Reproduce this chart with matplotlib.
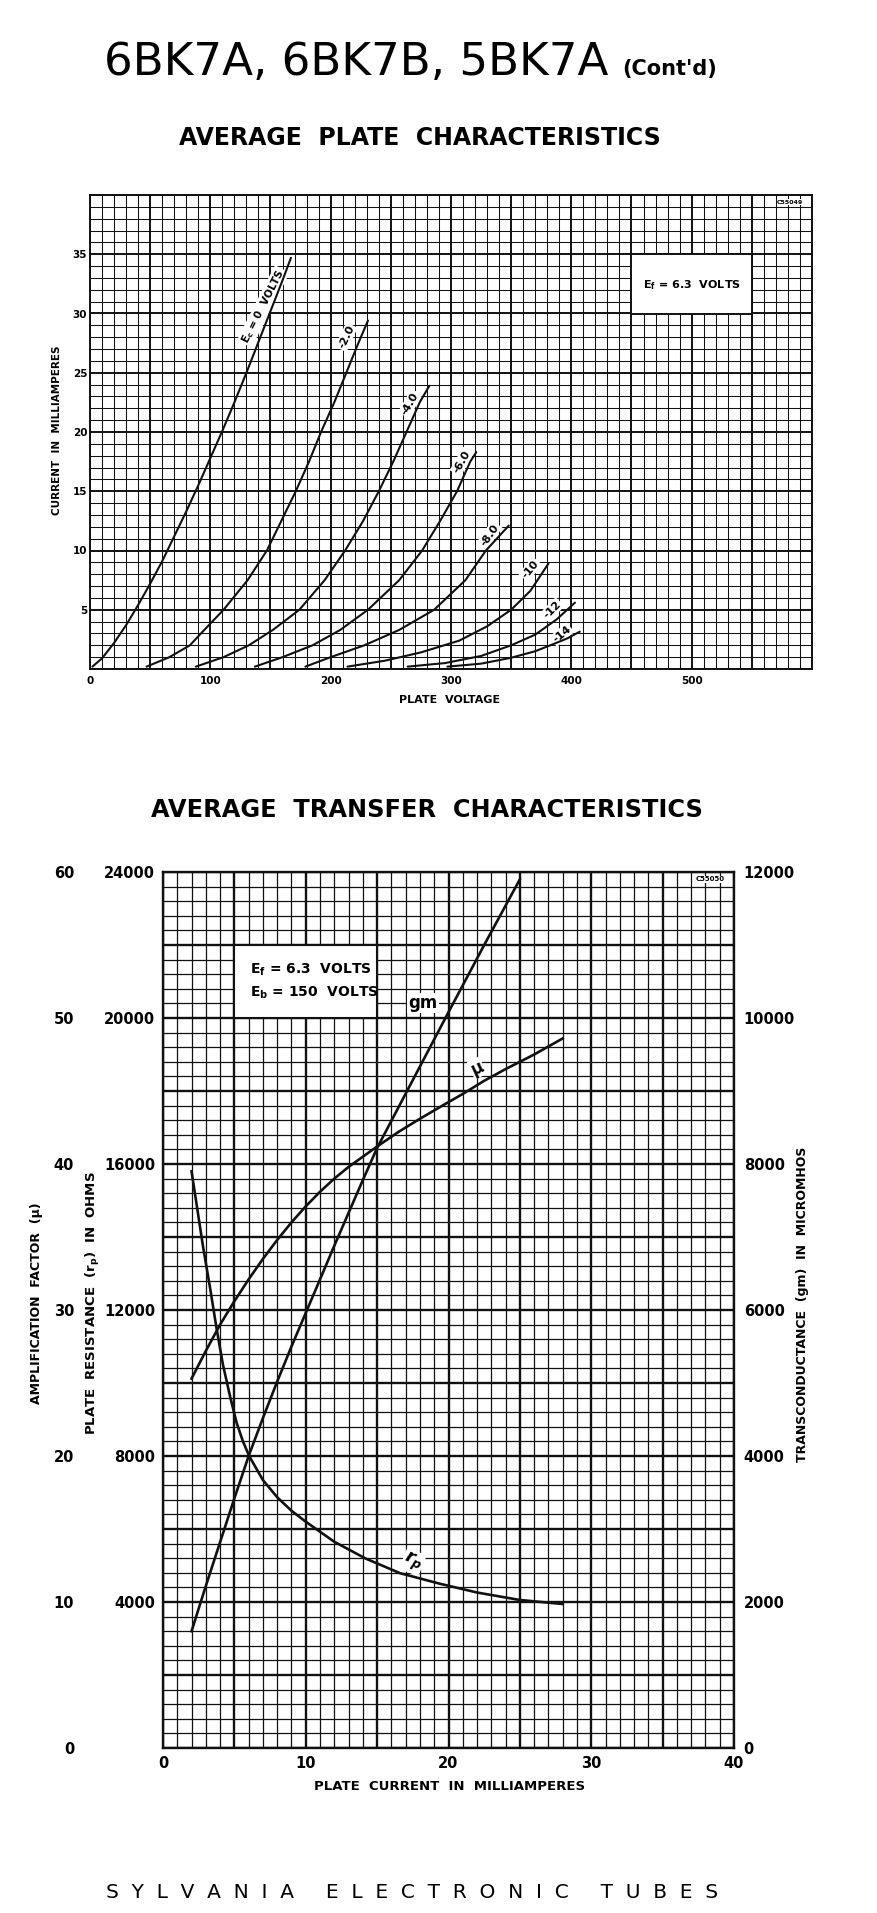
import matplotlib
matplotlib.use('Agg')
import matplotlib.pyplot as plt
from matplotlib.ticker import MultipleLocator, FuncFormatter
from matplotlib.patches import Rectangle

W, H = 878, 1913

# --- average plate characteristics (plate volts, plate mA) ---
ec_labels = ['-2.0', '-4.0', '-6.0', '-8.0', '-10', '-12', '-14']
v_ec0 = [2, 10, 20, 30, 40, 50, 60, 70, 80, 90, 100, 110, 120, 130, 140, 150, 160, 167]
i_ec0 = [0.2, 0.9, 2.2, 3.7, 5.4, 7.2, 9.1, 11.2, 13.3, 15.5, 17.8, 20.1, 22.5, 25.0,
         27.6, 30.2, 32.8, 34.7]
v_ec2 = [47, 66, 83, 95, 111, 131, 147, 159, 171, 182, 192, 203, 213, 223, 231]
i_ec2 = [0.2, 1.0, 2.0, 3.3, 5.0, 7.5, 10.0, 12.5, 15.0, 17.5, 20.0, 22.5, 25.0, 27.5, 29.4]
v_ec4 = [88, 111, 132, 152, 174, 195, 212, 227, 240, 252, 263, 274, 282]
i_ec4 = [0.2, 1.0, 2.0, 3.3, 5.0, 7.5, 10.0, 12.5, 15.0, 17.5, 20.0, 22.5, 23.9]
v_ec6 = [137, 160, 185, 208, 231, 257, 276, 291, 305, 316, 321]
i_ec6 = [0.2, 1.0, 2.0, 3.3, 5.0, 7.5, 10.0, 12.5, 15.0, 17.5, 18.3]
v_ec8 = [179, 200, 228, 257, 286, 312, 329, 348]
i_ec8 = [0.2, 1.0, 2.0, 3.3, 5.0, 7.5, 10.0, 12.1]
v_ec10 = [214, 245, 275, 307, 330, 350, 366, 381]
i_ec10 = [0.2, 0.7, 1.4, 2.4, 3.6, 5.0, 6.6, 8.9]
v_ec12 = [264, 295, 325, 350, 370, 388, 403]
i_ec12 = [0.2, 0.5, 1.1, 2.0, 2.9, 4.2, 5.6]
v_ec14 = [297, 325, 350, 370, 385, 397, 407]
i_ec14 = [0.2, 0.45, 0.95, 1.5, 2.1, 2.6, 3.15]

# --- average transfer characteristics (plate mA) ---
ib_gm = [2, 3, 4, 5, 6, 7, 8, 9, 10, 12, 14, 15, 17.5, 20, 22.5, 25]
gm = [1600, 2220, 2820, 3420, 4000, 4520, 5020, 5500, 5960, 6880, 7780, 8220,
      9150, 10080, 11000, 11900]
ib_mu = [2, 3, 4, 5, 6, 7, 8, 9, 10, 11, 12, 13, 14, 15, 16.5, 18, 19.4, 21,
         22.5, 24, 26, 28]
mu = [25.3, 27.2, 29.0, 30.6, 32.1, 33.5, 34.8, 36.0, 37.1, 38.1, 39.0, 39.8,
      40.5, 41.2, 42.2, 43.1, 43.9, 44.8, 45.7, 46.5, 47.5, 48.6]
ib_rp = [2.0, 2.35, 2.8, 3.3, 3.75, 4.2, 4.7, 5.15, 5.6, 6.05, 7.0, 8.0, 9.0,
         10.0, 12.0, 14.2, 16.6, 19.4, 22.0, 25.0, 28.0]
rp = [15800, 14900, 13750, 12600, 11500, 10500, 9630, 8920, 8400, 7990, 7340,
      6870, 6500, 6200, 5650, 5190, 4790, 4500, 4260, 4055, 3945]

plt.rcParams['font.family'] = ['DejaVu Sans']
plt.rcParams['font.weight'] = 'bold'
plt.rcParams['mathtext.fontset'] = 'dejavusans'
INK = '#111111'


def fx(px):
    return px / W


def fy(py):
    return 1 - py / H


def graph_paper(ax, xmax, ymax, xminor, yminor, xmajor, ymajor, heavy, light):
    ax.set_xlim(0, xmax)
    ax.set_ylim(0, ymax)
    ax.xaxis.set_major_locator(MultipleLocator(xmajor))
    ax.xaxis.set_minor_locator(MultipleLocator(xminor))
    ax.yaxis.set_major_locator(MultipleLocator(ymajor))
    ax.yaxis.set_minor_locator(MultipleLocator(yminor))
    ax.grid(which='major', color=INK, lw=heavy)
    ax.grid(which='minor', color=INK, lw=light)
    ax.set_axisbelow(True)
    ax.tick_params(which='both', length=0)
    for s in ax.spines.values():
        s.set_linewidth(heavy)
        s.set_color(INK)


fig = plt.figure(figsize=(W / 100, H / 100), dpi=100)

fig.text(fx(104), fy(75), '6BK7A, 6BK7B, 5BK7A', fontsize=32.5,
         fontweight='normal', ha='left', va='baseline')
fig.text(fx(622), fy(75), "(Cont'd)", fontsize=15, ha='left', va='baseline')
fig.text(fx(420), fy(145), 'AVERAGE  PLATE  CHARACTERISTICS', fontsize=17,
         ha='center', va='baseline')

# ---------- plate characteristics ----------
ax1 = fig.add_axes([fx(90), fy(669), 722 / W, 474 / H])
graph_paper(ax1, 600, 40, 10, 1, 50, 5, 1.4, 0.75)
ax1.xaxis.set_major_formatter(FuncFormatter(
    lambda v, p: f'{v:.0f}' if v % 100 == 0 and v < 600 else ''))
ax1.yaxis.set_major_formatter(FuncFormatter(
    lambda v, p: f'{v:.0f}' if 0 < v < 40 else ''))
ax1.tick_params(axis='x', labelsize=7.5, pad=5)
ax1.tick_params(axis='y', labelsize=7.5, pad=2)

plate_v = [v_ec0, v_ec2, v_ec4, v_ec6, v_ec8, v_ec10, v_ec12, v_ec14]
plate_i = [i_ec0, i_ec2, i_ec4, i_ec6, i_ec8, i_ec10, i_ec12, i_ec14]
for v, i in zip(plate_v, plate_i):
    ax1.plot(v, i, color=INK, lw=1.5, zorder=4, solid_capstyle='round')

white = dict(fc='white', ec='none', pad=1.0)
ax1.text(144, 30.6, r'E$_\mathbf{c}$ = 0  VOLTS', fontsize=7.5, rotation=63,
         ha='center', va='center', bbox=white, zorder=3)
label_pos = [(213, 28.0, 65), (266, 22.4, 60), (309, 17.5, 60),
             (332, 11.3, 55), (366, 8.4, 50), (384, 5.0, 45), (392, 2.9, 40)]
for lab, (x, y, r) in zip(ec_labels, label_pos):
    ax1.text(x, y, lab, fontsize=8, rotation=r, ha='center', va='center',
             bbox=white, zorder=3)

ax1.add_patch(Rectangle((450, 30), 100, 5, fc='white', ec=INK, lw=1.4, zorder=3))
ax1.text(500, 32.4, r'E$_\mathbf{f}$ = 6.3  VOLTS', fontsize=8, ha='center',
         va='center', zorder=4)
ax1.text(582, 39.4, 'C55049', fontsize=4.5, ha='center', va='center',
         bbox=dict(fc='white', ec='none', pad=0.5), zorder=4)

fig.text(fx(57), fy(430), 'CURRENT  IN  MILLIAMPERES', fontsize=7.5,
         rotation=90, ha='center', va='center')
fig.text(fx(450), fy(700), 'PLATE  VOLTAGE', fontsize=8, ha='center', va='center')

# ---------- transfer characteristics ----------
fig.text(fx(427), fy(817), 'AVERAGE  TRANSFER  CHARACTERISTICS', fontsize=17.3,
         ha='center', va='baseline')

ax2 = fig.add_axes([fx(163), fy(1748), 571 / W, 876 / H])
graph_paper(ax2, 40, 24000, 1, 400, 5, 2000, 1.7, 0.9)
ax2.xaxis.set_major_formatter(FuncFormatter(
    lambda v, p: f'{v:.0f}' if v % 10 == 0 else ''))
ax2.yaxis.set_major_formatter(FuncFormatter(
    lambda v, p: f'{v:.0f}' if v % 4000 == 0 and v > 0 else ''))
ax2.tick_params(axis='x', labelsize=10.5, pad=6)
ax2.tick_params(axis='y', labelsize=10.5, pad=5.5)

ax_gm = ax2.twinx()
ax_gm.set_ylim(0, 12000)
ax_gm.set_yticks(range(0, 12001, 2000))
ax_gm.tick_params(length=0, pad=7, labelsize=10.5)

ax_mu = ax2.twinx()
ax_mu.set_ylim(0, 60)
ax_mu.set_yticks(range(0, 61, 10))
ax_mu.yaxis.set_ticks_position('left')
ax_mu.spines['left'].set_position(('outward', 64))
ax_mu.tick_params(length=0, pad=0, labelsize=10.5)
for a in (ax_gm, ax_mu):
    for s in a.spines.values():
        s.set_visible(False)

ax2.plot(ib_rp, rp, color=INK, lw=1.9, zorder=4)
ax_gm.plot(ib_gm, gm, color=INK, lw=1.9, zorder=4)
ax_mu.plot(ib_mu, mu, color=INK, lw=1.9, zorder=4)

ax2.add_patch(Rectangle((5, 20000), 10, 2000, fc='white', ec=INK, lw=1.5, zorder=3))
ax2.text(6.1, 21315, r'E$_\mathbf{f}$ = 6.3  VOLTS', fontsize=10, ha='left',
         va='center', zorder=4)
ax2.text(6.1, 20685, r'E$_\mathbf{b}$ = 150  VOLTS', fontsize=10, ha='left',
         va='center', zorder=4)
ax2.text(18.2, 20411, 'gm', fontsize=12, ha='center', va='center',
         bbox=dict(fc='white', ec='none', pad=1.0), zorder=5)
ax2.text(22.0, 18630, 'μ', fontsize=12, rotation=25, ha='center', va='center',
         bbox=dict(fc='white', ec='none', pad=0.5), zorder=5)
ax2.text(17.5, 5096, r'$r_p$', fontsize=13, rotation=-22, ha='center',
         va='center', bbox=dict(fc='white', ec='none', pad=0.5), zorder=5)
ax2.text(38.3, 23800, 'C55050', fontsize=5, ha='center', va='center',
         bbox=dict(fc='white', ec='none', pad=0.5), zorder=5)

fig.text(fx(37), fy(1303), 'AMPLIFICATION  FACTOR  (μ)', fontsize=9,
         rotation=90, ha='center', va='center')
fig.text(fx(93), fy(1303), r'PLATE  RESISTANCE  (r$_\mathbf{p}$)  IN  OHMS',
         fontsize=9.5, rotation=90, ha='center', va='center')
fig.text(fx(803), fy(1304), 'TRANSCONDUCTANCE  (gm)  IN  MICROMHOS',
         fontsize=9, rotation=90, ha='center', va='center')
fig.text(fx(450), fy(1787), 'PLATE  CURRENT  IN  MILLIAMPERES', fontsize=9.5,
         ha='center', va='center')

fig.text(fx(412), fy(1898), 'S  Y  L  V  A  N  I  A     E  L  E  C  T  R  O  N  I  C     T  U  B  E  S',
         fontsize=14.5, fontweight='normal', ha='center', va='baseline')

fig.savefig('out.png', dpi=100, facecolor='white')
